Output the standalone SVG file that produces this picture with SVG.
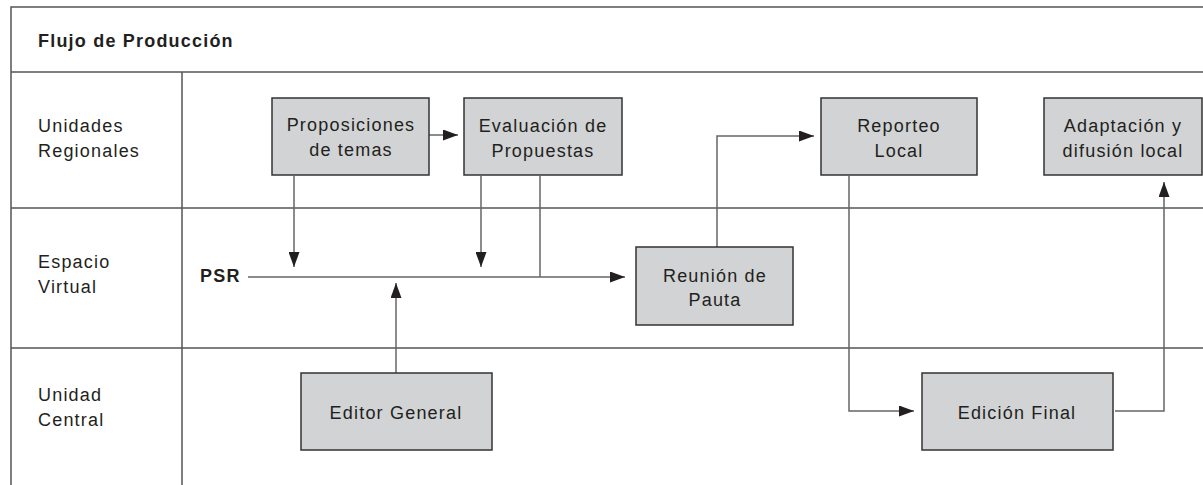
<svg xmlns="http://www.w3.org/2000/svg" width="1203" height="485" viewBox="0 0 1203 485">
<style>
.grid{stroke:#555;stroke-width:1.5;fill:none}
.box{fill:#d1d3d4;stroke:#333;stroke-width:1.5}
.t{font-family:"Liberation Sans",Arial,sans-serif;font-size:18px;fill:#231f20;letter-spacing:1.2px}
.c{text-anchor:middle}
.b{font-weight:bold}
.con{stroke:#666;stroke-width:1.5;fill:none}
</style>
<defs>
<marker id="ah" markerUnits="userSpaceOnUse" markerWidth="15" markerHeight="11" refX="15" refY="5.5" orient="auto">
<path d="M0,0 L15,5.5 L0,11 z" fill="#231f20"/>
</marker>
</defs>
<rect width="1203" height="485" fill="#fff"/>
<g id="grid">
<path class="grid" d="M1203,7 H11 V485"/>
<path class="grid" d="M11,72 H1203"/>
<path class="grid" d="M182,72 V485"/>
<path class="grid" d="M11,208 H1203"/>
<path class="grid" d="M11,348 H1203"/>
</g>
<g id="labels">
<text class="t b" x="38" y="47">Flujo de Producción</text>
<text class="t" x="38" y="132">Unidades</text>
<text class="t" x="38" y="157">Regionales</text>
<text class="t" x="38" y="268">Espacio</text>
<text class="t" x="38" y="293">Virtual</text>
<text class="t" x="38" y="401">Unidad</text>
<text class="t" x="38" y="426">Central</text>
<text class="t b" x="200" y="282">PSR</text>
</g>
<g id="connectors">
<path class="con" d="M429,135 H458" marker-end="url(#ah)"/>
<path class="con" d="M294,176 V267" marker-end="url(#ah)"/>
<path class="con" d="M481,176 V267" marker-end="url(#ah)"/>
<path class="con" d="M540,176 V277"/>
<path class="con" d="M248,277 H625" marker-end="url(#ah)"/>
<path class="con" d="M396,373 V283" marker-end="url(#ah)"/>
<path class="con" d="M717,247 V136 H814" marker-end="url(#ah)"/>
<path class="con" d="M849,176 V411 H914" marker-end="url(#ah)"/>
<path class="con" d="M1115,411 H1164 V182" marker-end="url(#ah)"/>
</g>
<g id="proposiciones">
<rect class="box" x="272" y="98" width="157" height="77"/>
<text class="t c" x="351" y="131">Proposiciones</text>
<text class="t c" x="351" y="156">de temas</text>
</g>
<g id="evaluacion">
<rect class="box" x="464" y="98" width="158" height="77"/>
<text class="t c" x="543" y="132">Evaluación de</text>
<text class="t c" x="543" y="157">Propuestas</text>
</g>
<g id="reunion">
<rect class="box" x="636" y="247" width="157" height="78"/>
<text class="t c" x="715" y="282">Reunión de</text>
<text class="t c" x="715" y="306">Pauta</text>
</g>
<g id="reporteo">
<rect class="box" x="821" y="98" width="156" height="77"/>
<text class="t c" x="899" y="132">Reporteo</text>
<text class="t c" x="899" y="157">Local</text>
</g>
<g id="adaptacion">
<rect class="box" x="1044" y="98" width="158" height="77"/>
<text class="t c" x="1123" y="132">Adaptación y</text>
<text class="t c" x="1123" y="157">difusión local</text>
</g>
<g id="editor">
<rect class="box" x="301" y="373" width="191" height="77"/>
<text class="t c" x="396" y="419">Editor General</text>
</g>
<g id="edicion">
<rect class="box" x="922" y="373" width="191" height="77"/>
<text class="t c" x="1017" y="419">Edición Final</text>
</g>
</svg>
